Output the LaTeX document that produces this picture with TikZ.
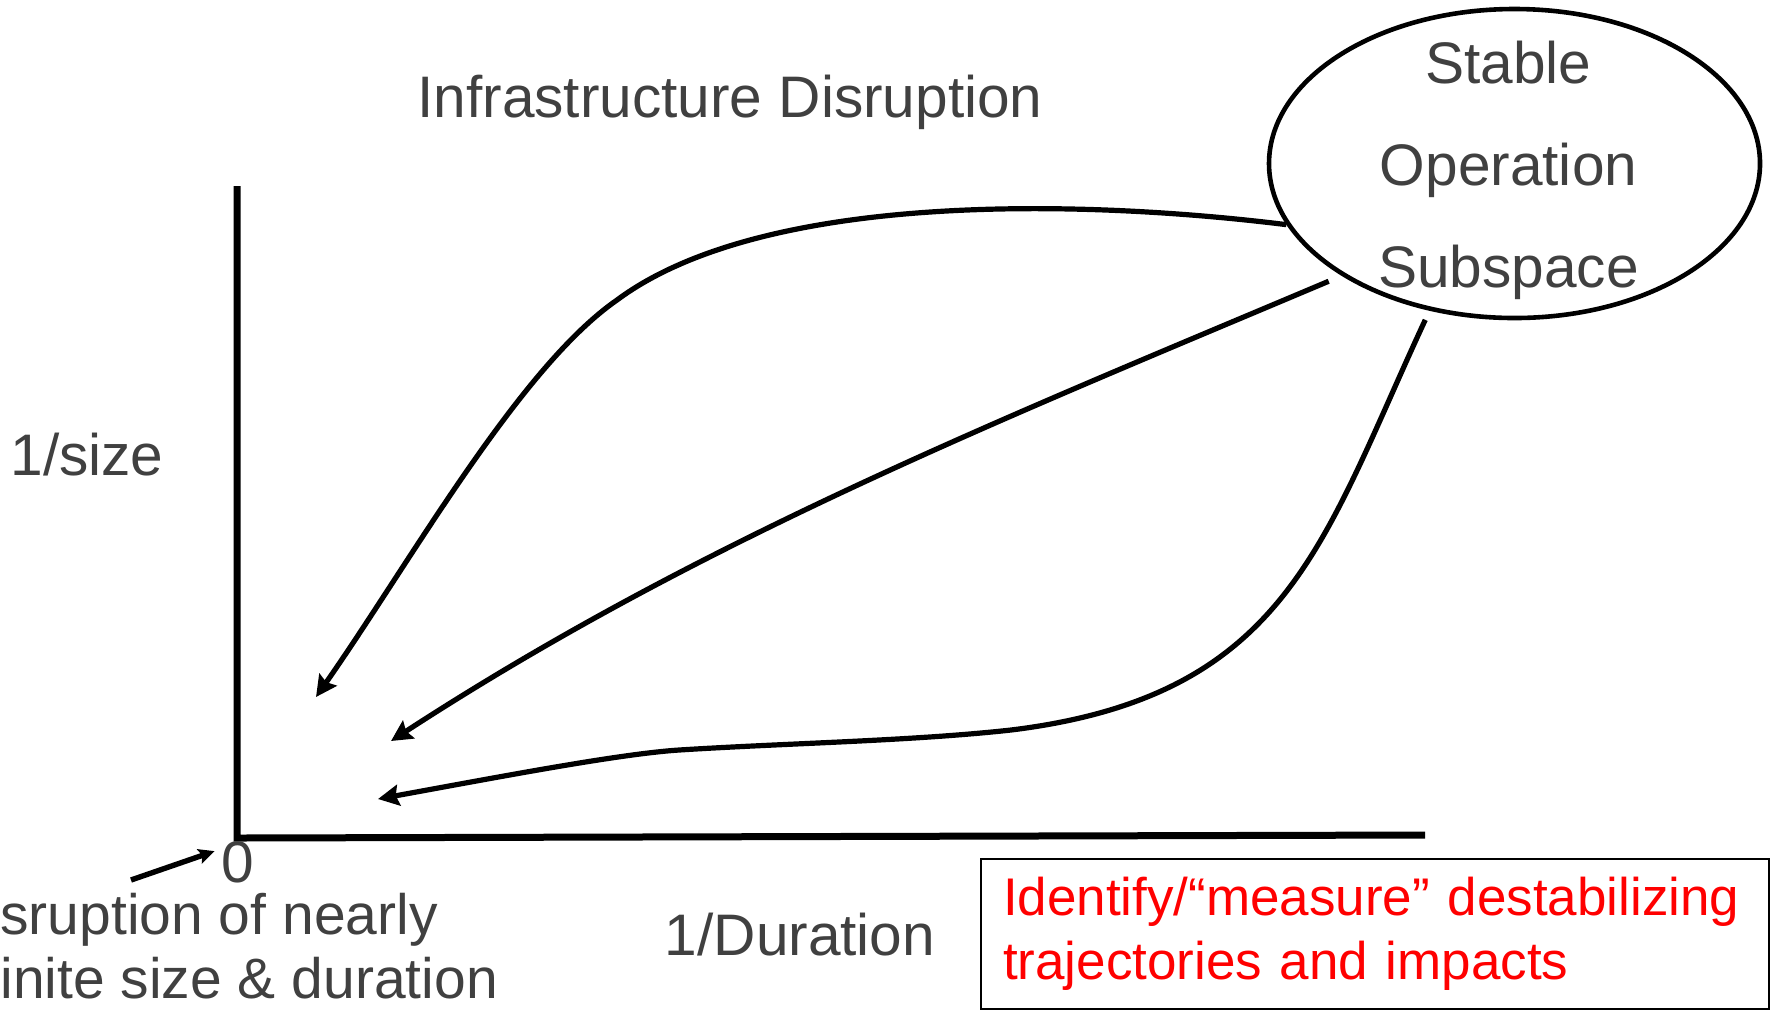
\documentclass[tikz,border=0pt]{standalone}
\usepackage{fontspec}
\setmainfont{Liberation Sans}
\usetikzlibrary{arrows.meta, shapes.geometric}
\definecolor{labelgray}{RGB}{64,64,64}
\definecolor{notered}{RGB}{255,0,0}

\begin{document}
\begin{tikzpicture}[x=0.5pt, y=-0.5pt, >={Stealth[length=10.5pt, width=10.5pt, inset=1.5pt]},
    every node/.style={font=\fontsize{29.3}{32}\selectfont, text=labelgray},
    axis/.style={line width=3.5pt, line join=miter},
    traj/.style={line width=2.6pt, ->},
    space/.style={ellipse, draw, line width=2.3pt, minimum width=245.5pt, minimum height=154.5pt,
                  inner sep=0pt},
    spacetext/.style={align=center, font=\fontsize{29.3}{51}\selectfont},
    notebox/.style={draw, line width=1pt, anchor=north west, align=left, text=notered,
                    font=\fontsize{26.5}{32}\selectfont, minimum width=394pt, minimum height=75pt,
                    text width=372pt, inner xsep=11pt}]
    \useasboundingbox (0,0) rectangle (1770,1009);

    % --- 1. 座標の定義 ---
    \coordinate (O)    at (237,838);   % 原点
    \coordinate (Ytop) at (237,186);   % 縦軸の端
    \coordinate (Xend) at (1425,835);  % 横軸の端
    \coordinate (tipA) at (316,697);
    \coordinate (tipB) at (391,741);
    \coordinate (tipC) at (378,799);
    \coordinate (ptr)  at (131,880);

    % --- 2. 軸 ---
    \draw[axis] (Ytop) -- (O) -- (Xend);

    % --- 3. ラベル ---
    \node (title) at (730,102) {Infrastructure Disruption};
    \node (ylab)  at (87,455) {1/size};
    \node (xlab)  at (800,935) {1/Duration};
    \node (zero)  at (238,862) {0};
    \node[anchor=west, align=left, inner sep=0pt, font=\fontsize{28.5}{32}\selectfont] (tiny) at (0,946)
        {sruption of nearly\\inite size \& duration};
    \draw[line width=2.7pt, -{Stealth[length=8pt, width=7.5pt, inset=1.5pt]}] (ptr) -- (zero.155);

    % 安定運転領域
    \node[space] (sos) at (1514.5,163.5) {};
    \node[spacetext, xshift=-3pt, yshift=-3.5pt] (sostext) at (sos) {Stable\\Operation\\Subspace};

    % --- 4. 軌道 ---
    \draw[traj] (sos.195) .. controls (1088,200) and (765,190) .. (617,300)
                .. controls (519,368) and (411,561) .. (tipA);
    \draw[traj, shorten <=7pt] (sos.213) .. controls (1000,420) and (700,540) .. (tipB);
    \draw[traj, shorten <=5pt] (sos.240) .. controls (1322,542) and (1288,696) .. (1011,730)
                .. controls (911,741) and (790,743) .. (679,750)
                .. controls (619,754) and (504,776) .. (tipC);

    % 注記
    \node[notebox] (note) at (980,858) {Identify/“measure” destabilizing\\trajectories and impacts};
\end{tikzpicture}
\end{document}
